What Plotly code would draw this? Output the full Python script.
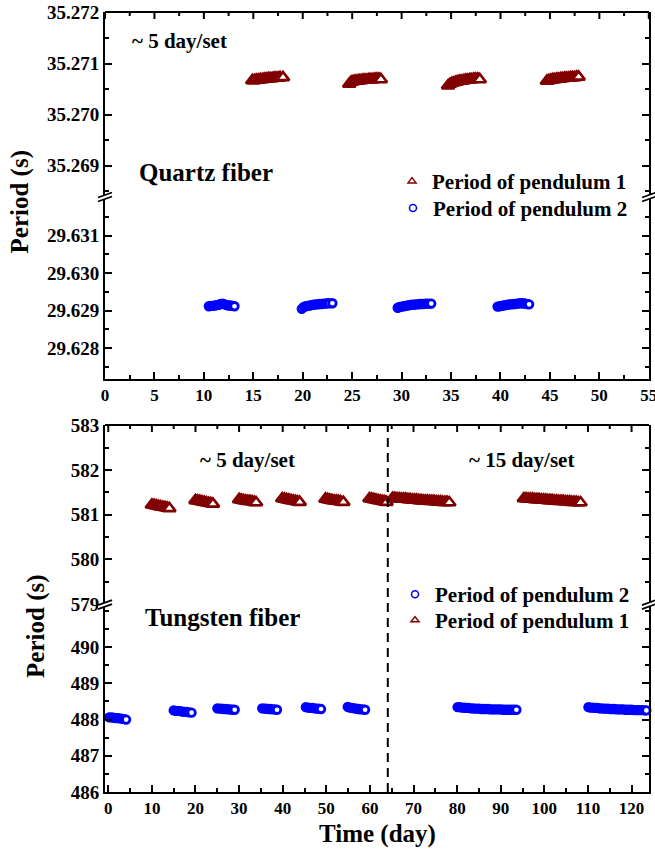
import plotly.graph_objects as go

DARK_RED = "#800000"
BLUE = "#0000FF"
FONT = "Liberation Serif, 'Times New Roman', serif"

# ---------------- Quartz fiber (top panel) ----------------
# pendulum 1, one list per measurement set
q1_t1 = [14.9, 15.1, 15.3, 15.5, 15.7, 15.9, 16.1, 16.3, 16.5, 16.7, 16.9, 17.1, 17.3, 17.5, 17.7, 18.0]
q1_p1 = [35.27067, 35.27067, 35.27068, 35.27068, 35.27069, 35.27069, 35.27070, 35.27070,
         35.27071, 35.27071, 35.27071, 35.27072, 35.27072, 35.27072, 35.27073, 35.27073]
q1_t2 = [24.7, 24.9, 25.1, 25.3, 25.5, 25.7, 25.9, 26.1, 26.3, 26.5, 26.7, 26.9, 27.1, 27.3, 27.5, 27.7, 27.9]
q1_p2 = [35.27060, 35.27064, 35.27065, 35.27066, 35.27066, 35.27067, 35.27067, 35.27068, 35.27068,
         35.27068, 35.27069, 35.27069, 35.27069, 35.27070, 35.27070, 35.27070, 35.27069]
q1_t3 = [34.7, 34.9, 35.1, 35.3, 35.5, 35.7, 35.9, 36.1, 36.3, 36.5, 36.7, 36.9, 37.1, 37.3, 37.5, 37.7, 37.9]
q1_p3 = [35.27057, 35.27060, 35.27062, 35.27063, 35.27064, 35.27065, 35.27066, 35.27066, 35.27067,
         35.27068, 35.27068, 35.27069, 35.27069, 35.27070, 35.27070, 35.27070, 35.27069]
q1_t4 = [44.7, 44.9, 45.1, 45.3, 45.5, 45.7, 45.9, 46.1, 46.3, 46.5, 46.7, 46.9, 47.1, 47.3, 47.5, 47.7, 47.9]
q1_p4 = [35.27066, 35.27067, 35.27068, 35.27069, 35.27069, 35.27070, 35.27070, 35.27071, 35.27071,
         35.27072, 35.27072, 35.27072, 35.27073, 35.27073, 35.27073, 35.27074, 35.27074]

# pendulum 2
q2_t1 = [10.5, 10.7, 10.9, 11.1, 11.3, 11.5, 11.7, 11.9, 12.1, 12.3, 12.5, 12.7, 12.9, 13.1]
q2_p1 = [29.62912, 29.62913, 29.62913, 29.62914, 29.62915, 29.62916, 29.62918, 29.62919,
         29.62917, 29.62915, 29.62914, 29.62914, 29.62913, 29.62912]
q2_t2 = [19.9, 20.1, 20.3, 20.5, 20.7, 20.9, 21.1, 21.3, 21.5, 21.7, 21.9, 22.1, 22.3, 22.5, 22.7, 23.0]
q2_p2 = [29.62905, 29.62910, 29.62912, 29.62913, 29.62914, 29.62915, 29.62916, 29.62917,
         29.62917, 29.62918, 29.62918, 29.62919, 29.62919, 29.62920, 29.62920, 29.62920]
q2_t3 = [29.6, 29.8, 30.0, 30.2, 30.4, 30.6, 30.8, 31.0, 31.2, 31.4, 31.6, 31.8, 32.0, 32.2, 32.4, 32.6, 32.8, 33.0]
q2_p3 = [29.62908, 29.62910, 29.62911, 29.62912, 29.62913, 29.62914, 29.62915, 29.62916, 29.62916,
         29.62917, 29.62917, 29.62918, 29.62918, 29.62918, 29.62919, 29.62919, 29.62919, 29.62919]
q2_t4 = [39.7, 39.9, 40.1, 40.3, 40.5, 40.7, 40.9, 41.1, 41.3, 41.5, 41.7, 41.9, 42.1, 42.3, 42.5, 42.7, 42.9]
q2_p4 = [29.62911, 29.62912, 29.62913, 29.62914, 29.62915, 29.62916, 29.62917, 29.62917, 29.62918,
         29.62918, 29.62919, 29.62920, 29.62920, 29.62920, 29.62919, 29.62918, 29.62917]

# ---------------- Tungsten fiber (bottom panel) ----------------
# pendulum 1
w1_tA = [10.0, 10.5, 11.0, 11.5, 12.0, 12.5, 13.0, 13.5, 14.0]
w1_pA = [581.22, 581.21, 581.20, 581.19, 581.18, 581.17, 581.16, 581.15, 581.14]
w1_tB = [20.0, 20.5, 21.0, 21.5, 22.0, 22.5, 23.0, 23.5, 24.0]
w1_pB = [581.32, 581.31, 581.30, 581.29, 581.28, 581.27, 581.26, 581.25, 581.24]
w1_tC = [30.0, 30.5, 31.0, 31.5, 32.0, 32.5, 33.0, 33.5, 33.9]
w1_pC = [581.34, 581.33, 581.32, 581.31, 581.30, 581.30, 581.29, 581.28, 581.27]
w1_tD = [39.9, 40.4, 40.9, 41.4, 41.9, 42.4, 42.9, 43.4, 43.9]
w1_pD = [581.36, 581.35, 581.34, 581.33, 581.32, 581.31, 581.30, 581.29, 581.28]
w1_tE = [49.8, 50.3, 50.8, 51.3, 51.8, 52.3, 52.8, 53.3, 53.9]
w1_pE = [581.35, 581.34, 581.33, 581.32, 581.31, 581.31, 581.30, 581.29, 581.28]
w1_tF = [59.9, 60.4, 60.9, 61.4, 61.9, 62.4, 62.9, 63.4, 63.8]
w1_pF = [581.36, 581.35, 581.34, 581.33, 581.32, 581.31, 581.30, 581.29, 581.28]
w1_tG = [65.2, 65.7, 66.2, 66.7, 67.2, 67.7, 68.2, 68.7, 69.2, 69.7, 70.2, 70.7, 71.2, 71.7,
         72.2, 72.7, 73.2, 73.7, 74.2, 74.7, 75.2, 75.7, 76.2, 76.7, 77.2, 77.7, 78.2]
w1_pG = [581.37, 581.37, 581.36, 581.36, 581.35, 581.35, 581.35, 581.34, 581.34, 581.33, 581.33,
         581.33, 581.32, 581.32, 581.31, 581.31, 581.31, 581.30, 581.30, 581.30, 581.29, 581.29,
         581.29, 581.28, 581.28, 581.28, 581.27]
w1_tH = [95.3, 95.8, 96.3, 96.8, 97.3, 97.8, 98.3, 98.8, 99.3, 99.8, 100.3, 100.8, 101.3, 101.8,
         102.3, 102.8, 103.3, 103.8, 104.3, 104.8, 105.3, 105.8, 106.3, 106.8, 107.3, 107.8, 108.3]
w1_pH = [581.36, 581.36, 581.35, 581.35, 581.35, 581.34, 581.34, 581.34, 581.33, 581.33, 581.33,
         581.32, 581.32, 581.32, 581.31, 581.31, 581.30, 581.30, 581.30, 581.29, 581.29, 581.29,
         581.28, 581.28, 581.28, 581.27, 581.27]
w1_tI = [124.2]
w1_pI = [581.37]

# pendulum 2
w2_t1 = [0.2, 0.7, 1.2, 1.7, 2.2, 2.7, 3.2, 3.7, 4.1]
w2_p1 = [488.06, 488.06, 488.05, 488.04, 488.04, 488.03, 488.02, 488.01, 488.00]
w2_t2 = [15.0, 15.5, 16.0, 16.5, 17.0, 17.5, 18.0, 18.5, 19.1]
w2_p2 = [488.25, 488.24, 488.24, 488.23, 488.22, 488.21, 488.21, 488.20, 488.19]
w2_t3 = [25.0, 25.5, 26.0, 26.5, 27.0, 27.5, 28.0, 28.5, 29.0]
w2_p3 = [488.31, 488.30, 488.30, 488.29, 488.29, 488.28, 488.28, 488.27, 488.27]
w2_t4 = [35.3, 35.8, 36.2, 36.7, 37.2, 37.7, 38.2, 38.7]
w2_p4 = [488.31, 488.30, 488.30, 488.29, 488.29, 488.28, 488.28, 488.27]
w2_t5 = [45.3, 45.8, 46.3, 46.8, 47.3, 47.8, 48.3, 48.8]
w2_p5 = [488.34, 488.33, 488.32, 488.32, 488.31, 488.30, 488.30, 488.29]
w2_t6 = [54.9, 55.4, 55.9, 56.4, 56.9, 57.4, 57.9, 58.4, 58.9]
w2_p6 = [488.35, 488.33, 488.32, 488.31, 488.30, 488.29, 488.28, 488.28, 488.27]
w2_t7 = [80.1, 80.6, 81.1, 81.6, 82.1, 82.6, 83.1, 83.6, 84.1, 84.6, 85.1, 85.6, 86.1, 86.6,
         87.1, 87.6, 88.1, 88.6, 89.1, 89.6, 90.1, 90.6, 91.1, 91.6, 92.1, 92.6, 93.1, 93.6]
w2_p7 = [488.34, 488.34, 488.33, 488.33, 488.32, 488.32, 488.31, 488.31, 488.30, 488.30, 488.30,
         488.29, 488.29, 488.29, 488.29, 488.28, 488.28, 488.28, 488.28, 488.28, 488.28, 488.27,
         488.27, 488.27, 488.27, 488.27, 488.27, 488.27]
w2_t8 = [110.1, 110.6, 111.1, 111.6, 112.1, 112.6, 113.1, 113.6, 114.1, 114.6, 115.1, 115.6, 116.1, 116.6,
         117.1, 117.6, 118.1, 118.6, 119.1, 119.6, 120.1, 120.6, 121.1, 121.6, 122.1, 122.6, 123.1, 123.4]
w2_p8 = [488.34, 488.33, 488.33, 488.32, 488.32, 488.31, 488.31, 488.30, 488.30, 488.30, 488.29,
         488.29, 488.29, 488.28, 488.28, 488.28, 488.28, 488.27, 488.27, 488.27, 488.27, 488.26,
         488.26, 488.26, 488.26, 488.26, 488.25, 488.25]

# day on which the sampling scheme changes from ~5 to ~15 days per set
SWITCH_DAY = 64.1

# tick values of every axis segment
Q_X_TICKS = [0, 5, 10, 15, 20, 25, 30, 35, 40, 45, 50, 55]
Q_X_MINOR = [2.5, 7.5, 12.5, 17.5, 22.5, 27.5, 32.5, 37.5, 42.5, 47.5, 52.5]
Q_UP_TICKS = [35.269, 35.270, 35.271, 35.272]
Q_LO_TICKS = [29.628, 29.629, 29.630, 29.631]
W_X_TICKS = [0, 10, 20, 30, 40, 50, 60, 70, 80, 90, 100, 110, 120]
W_X_MINOR = [5, 15, 25, 35, 45, 55, 65, 75, 85, 95, 105, 115]
W_UP_TICKS = [579, 580, 581, 582, 583]
W_LO_TICKS = [486, 487, 488, 489, 490]

# axis ranges (each panel has a broken y axis made of two stacked segments)
Q_X_RANGE = [0, 55.02]
Q_UP_RANGE = [35.26838, 35.27201]
Q_LO_RANGE = [29.62718, 29.63202]
W_X_RANGE = [-0.75, 124]
W_UP_RANGE = [578.978, 583.005]
W_LO_RANGE = [486, 491.16]

# vertical domains (paper fractions)
Q_BREAK = 0.7622
Q_BOTTOM = 0.5295
W_TOP = 0.4705
W_BREAK = 0.2397


def join(*parts):
    out = []
    for p in parts:
        out += p
    return out


fig = go.Figure()


def add_points(xs, ys, xa, ya, symbol, color, size, lw):
    fig.add_trace(go.Scatter(
        x=xs, y=ys, xaxis=xa, yaxis=ya, mode="markers",
        marker=dict(symbol=symbol, size=size, color="white",
                    line=dict(color=color, width=lw)),
        showlegend=False, cliponaxis=False, hoverinfo="skip"))


add_points(join(q1_t1, q1_t2, q1_t3, q1_t4), join(q1_p1, q1_p2, q1_p3, q1_p4),
           "x", "y", "triangle-up", DARK_RED, 11, 2.6)
add_points(join(q2_t1, q2_t2, q2_t3, q2_t4), join(q2_p1, q2_p2, q2_p3, q2_p4),
           "x", "y2", "circle", BLUE, 7.5, 2.8)
add_points(join(w1_tA, w1_tB, w1_tC, w1_tD, w1_tE, w1_tF, w1_tG, w1_tH, w1_tI),
           join(w1_pA, w1_pB, w1_pC, w1_pD, w1_pE, w1_pF, w1_pG, w1_pH, w1_pI),
           "x2", "y3", "triangle-up", DARK_RED, 11, 2.6)
add_points(join(w2_t1, w2_t2, w2_t3, w2_t4, w2_t5, w2_t6, w2_t7, w2_t8),
           join(w2_p1, w2_p2, w2_p3, w2_p4, w2_p5, w2_p6, w2_p7, w2_p8),
           "x2", "y4", "circle", BLUE, 7.5, 2.8)


# legend keys (empty traces so the key symbols stay small), one legend per entry
def legend_key(name, symbol, color, legend, xa, ya):
    fig.add_trace(go.Scatter(
        x=[None], y=[None], xaxis=xa, yaxis=ya, mode="markers", name=name,
        marker=dict(symbol=symbol, size=7, color="white", line=dict(color=color, width=1.5)),
        legend=legend, showlegend=True))


legend_key("Period of pendulum 1", "triangle-up", DARK_RED, "legend", "x", "y")
legend_key("Period of pendulum 2", "circle", BLUE, "legend2", "x", "y2")
legend_key("Period of pendulum 2", "circle", BLUE, "legend3", "x2", "y4")
legend_key("Period of pendulum 1", "triangle-up", DARK_RED, "legend4", "x2", "y3")

MAJOR_LEN, MINOR_LEN = 7, 4
tick_font = dict(family=FONT, size=19, color="black", weight="bold")
xtick_font = dict(family=FONT, size=17, color="black", weight="bold")
common = dict(showline=True, linecolor="black", linewidth=2, ticks="inside", ticklen=MAJOR_LEN,
              tickwidth=2, tickcolor="black", showgrid=False, zeroline=False, automargin=False)
minor_ticks = dict(ticks="inside", ticklen=MINOR_LEN, tickwidth=2, tickcolor="black",
                   showgrid=False)
legend_font = dict(family=FONT, size=21, color="black", weight="bold")


def legend_box(x, y):
    return dict(x=x, y=y, xanchor="left", yanchor="top", bgcolor="rgba(0,0,0,0)",
                font=legend_font, itemclick=False, itemdoubleclick=False)


fig.update_layout(
    width=655, height=852,
    margin=dict(l=105, r=6, t=12, b=60, autoexpand=False),
    plot_bgcolor="white", paper_bgcolor="white",
    xaxis=dict(**common, domain=[0, 1], anchor="y2", range=Q_X_RANGE,
               tickmode="array", tickvals=Q_X_TICKS,
               minor=dict(**minor_ticks, tickmode="array", tickvals=Q_X_MINOR),
               tickfont=xtick_font, ticklabeloverflow="allow"),
    yaxis=dict(**common, domain=[Q_BREAK, 1], anchor="x", range=Q_UP_RANGE, tickmode="array",
               tickvals=Q_UP_TICKS, ticktext=[f"{v:.3f}" for v in Q_UP_TICKS], mirror="ticks",
               minor=dict(**minor_ticks, tick0=35.269, dtick=0.0005), tickfont=tick_font),
    yaxis2=dict(**common, domain=[Q_BOTTOM, Q_BREAK], anchor="x", range=Q_LO_RANGE,
                tickmode="array", tickvals=Q_LO_TICKS, ticktext=[f"{v:.3f}" for v in Q_LO_TICKS],
                mirror="ticks", minor=dict(**minor_ticks, tick0=29.628, dtick=0.0005),
                tickfont=tick_font),
    xaxis2=dict(**common, domain=[0, 1], anchor="y4", range=W_X_RANGE,
                tickmode="array", tickvals=W_X_TICKS,
                minor=dict(**minor_ticks, tickmode="array", tickvals=W_X_MINOR),
                tickfont=xtick_font, ticklabeloverflow="allow"),
    yaxis3=dict(**common, domain=[W_BREAK, W_TOP], anchor="x2", range=W_UP_RANGE,
                tickmode="array", tickvals=W_UP_TICKS, mirror="ticks",
                minor=dict(**minor_ticks, tick0=579, dtick=0.5), tickfont=tick_font),
    yaxis4=dict(**common, domain=[0, W_BREAK], anchor="x2", range=W_LO_RANGE,
                tickmode="array", tickvals=W_LO_TICKS, mirror="ticks",
                minor=dict(**minor_ticks, tick0=486, dtick=0.5), tickfont=tick_font),
    legend=legend_box(0.5276, 0.809),
    legend2=legend_box(0.5294, 0.7744),
    legend3=legend_box(0.5331, 0.2795),
    legend4=legend_box(0.5331, 0.2462),
)

bold = lambda size: dict(family=FONT, size=size, color="black", weight="bold")

annotations = [
    dict(text="~ 5 day/set", xref="x", yref="y", x=2.5, y=35.27145, xanchor="left",
         yanchor="middle", showarrow=False, font=bold(21)),
    dict(text="Quartz fiber", xref="x", yref="y", x=3.2, y=35.26887, xanchor="left",
         yanchor="middle", showarrow=False, font=bold(25)),
    dict(text="~ 5 day/set", xref="x2", yref="y3", x=32.0, y=582.22, xanchor="center",
         yanchor="middle", showarrow=False, font=bold(21)),
    dict(text="~ 15 day/set", xref="x2", yref="y3", x=94.8, y=582.22, xanchor="center",
         yanchor="middle", showarrow=False, font=bold(21)),
    dict(text="Tungsten fiber", xref="x2", yref="y4", x=26.1, y=490.82, xanchor="center",
         yanchor="middle", showarrow=False, font=bold(25)),
    dict(text="Period (s)", xref="paper", yref="paper", x=-0.156, y=0.756, xanchor="center",
         yanchor="middle", textangle=-90, showarrow=False, font=bold(25)),
    dict(text="Period (s)", xref="paper", yref="paper", x=-0.127, y=0.2128, xanchor="center",
         yanchor="middle", textangle=-90, showarrow=False, font=bold(25)),
    dict(text="Time (day)", xref="paper", yref="paper", x=0.5, y=-0.0538, xanchor="center",
         yanchor="middle", showarrow=False, font=bold(25)),
]
fig.update_layout(annotations=annotations)

shapes = [
    dict(type="line", xref="x2", yref="paper", x0=SWITCH_DAY, x1=SWITCH_DAY, y0=0, y1=W_TOP,
         line=dict(color="black", width=2, dash="9px,6px")),
]


# top edge of each panel frame, with inward ticks at the x tick values
def top_frame(xref, ytop, majors, minors):
    out = [dict(type="line", xref="paper", yref="paper", x0=0, x1=1, y0=ytop, y1=ytop,
                line=dict(color="black", width=2))]
    for vals, length in ((majors, MAJOR_LEN), (minors, MINOR_LEN)):
        for v in vals:
            out.append(dict(type="line", xref=xref, yref="paper", x0=v, x1=v,
                            ysizemode="pixel", yanchor=ytop, y0=0, y1=-length,
                            line=dict(color="black", width=2)))
    return out


shapes += top_frame("x", 1, Q_X_TICKS, Q_X_MINOR)
shapes += top_frame("x2", W_TOP, W_X_TICKS, W_X_MINOR)


# axis-break marks: a white gap in the axis line bounded by two slashes
def break_mark(xp, yp):
    return [
        dict(type="path", xref="paper", yref="paper", xsizemode="pixel", ysizemode="pixel",
             xanchor=xp, yanchor=yp, path="M -7,-4 L 7,1 L 7,5 L -7,0 Z",
             fillcolor="white", line=dict(width=0)),
        dict(type="path", xref="paper", yref="paper", xsizemode="pixel", ysizemode="pixel",
             xanchor=xp, yanchor=yp, path="M -7,-4 L 7,1", line=dict(color="black", width=1.8)),
        dict(type="path", xref="paper", yref="paper", xsizemode="pixel", ysizemode="pixel",
             xanchor=xp, yanchor=yp, path="M -7,0 L 7,5", line=dict(color="black", width=1.8)),
    ]


for xp in (0, 1):
    shapes += break_mark(xp, Q_BREAK)
    shapes += break_mark(xp, W_BREAK)

fig.update_layout(shapes=shapes)

fig.write_html("out.html")
